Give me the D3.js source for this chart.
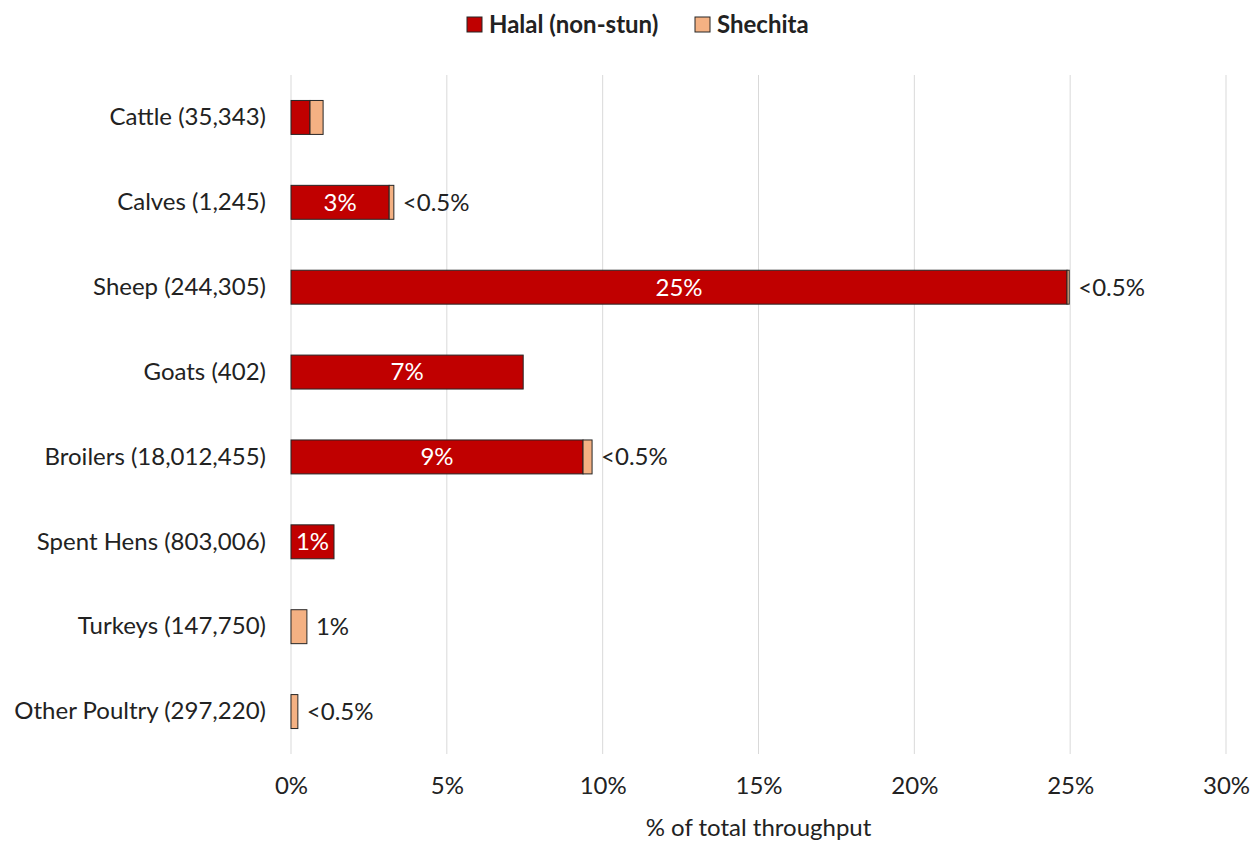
<!DOCTYPE html>
<html>
<head>
<meta charset="utf-8">
<script src="https://cdn.jsdelivr.net/npm/d3@7"></script>
<style>
  body { margin: 0; background: #fff; }
  text { font-family: Lato, "Open Sans", sans-serif; fill: #222; }
</style>
</head>
<body>
<div id="chart"></div>
<script>
var categories = ["Cattle (35,343)", "Calves (1,245)", "Sheep (244,305)", "Goats (402)",
  "Broilers (18,012,455)", "Spent Hens (803,006)", "Turkeys (147,750)", "Other Poultry (297,220)"];
var halal = [0.61, 3.15, 24.9, 7.45, 9.37, 1.38, 0, 0];
var shechita = [0.42, 0.15, 0.07, 0, 0.29, 0, 0.51, 0.22];
var halalLabels = ["", "3%", "25%", "7%", "9%", "1%", "", ""];
var shechitaLabels = ["", "<0.5%", "<0.5%", "", "<0.5%", "", "1%", "<0.5%"];
var xTicks = [0, 5, 10, 15, 20, 25, 30];

var width = 1258;
var height = 841;
var margin = {top: 75, right: 32, bottom: 87, left: 291};
var fontSize = "24px";

var halalColor = "#C00000";
var shechitaColor = "#F4B183";

var svg = d3.select("#chart").append("svg")
  .attr("width", width)
  .attr("height", height);

/* Scales */
var xScale = d3.scaleLinear()
  .domain([0, 30])
  .range([margin.left, width - margin.right]);

var yScale = d3.scaleBand()
  .domain(categories)
  .range([margin.top, height - margin.bottom])
  .paddingInner(0.6)
  .paddingOuter(0.3);

/* Gridlines */
svg.append("g")
  .selectAll("line")
  .data(xTicks).enter()
  .append("line")
  .attr("x1", d => xScale(d))
  .attr("x2", d => xScale(d))
  .attr("y1", margin.top)
  .attr("y2", height - margin.bottom)
  .attr("stroke", "#d9d9d9")
  .attr("stroke-width", 1);

/* Bars */
var rows = svg.append("g")
  .selectAll("g")
  .data(categories).enter()
  .append("g");

rows.filter((d, i) => halal[i] > 0)
  .append("rect")
  .attr("x", xScale(0))
  .attr("y", d => yScale(d))
  .attr("width", d => xScale(halal[categories.indexOf(d)]) - xScale(0))
  .attr("height", yScale.bandwidth())
  .attr("fill", halalColor)
  .attr("stroke", "#262626")
  .attr("stroke-width", 1);

rows.filter((d, i) => shechita[i] > 0)
  .append("rect")
  .attr("x", d => xScale(halal[categories.indexOf(d)]))
  .attr("y", d => yScale(d))
  .attr("width", d => {
    var i = categories.indexOf(d);
    return xScale(halal[i] + shechita[i]) - xScale(halal[i]);
  })
  .attr("height", yScale.bandwidth())
  .attr("fill", shechitaColor)
  .attr("stroke", "#262626")
  .attr("stroke-width", 1);

/* Value labels */
rows.append("text")
  .attr("x", d => {
    var i = categories.indexOf(d);
    return (xScale(0) + xScale(halal[i])) / 2;
  })
  .attr("y", d => yScale(d) + yScale.bandwidth() / 2)
  .attr("dy", "0.35em")
  .attr("text-anchor", "middle")
  .style("font-size", fontSize)
  .style("fill", "#fff")
  .text((d, i) => halalLabels[i]);

rows.append("text")
  .attr("x", d => {
    var i = categories.indexOf(d);
    return xScale(halal[i] + shechita[i]) + 9;
  })
  .attr("y", d => yScale(d) + yScale.bandwidth() / 2)
  .attr("dy", "0.35em")
  .style("font-size", fontSize)
  .text((d, i) => shechitaLabels[i]);

/* Axes */
var yAxis = d3.axisLeft(yScale).tickSize(0).tickPadding(25);
svg.append("g")
  .attr("transform", `translate(${margin.left}, 0)`)
  .call(yAxis)
  .call(g => g.select(".domain").remove())
  .selectAll("text")
  .style("font-size", fontSize)
  .style("font-family", "Lato, sans-serif")
  .attr("fill", "#222");

var xAxis = d3.axisBottom(xScale).tickValues(xTicks).tickSize(0).tickPadding(23)
  .tickFormat(d => d + "%");
svg.append("g")
  .attr("transform", `translate(0, ${height - margin.bottom})`)
  .call(xAxis)
  .call(g => g.select(".domain").remove())
  .selectAll("text")
  .style("font-size", fontSize)
  .style("font-family", "Lato, sans-serif")
  .attr("fill", "#222");

svg.append("text")
  .attr("x", (xScale(0) + xScale(30)) / 2)
  .attr("y", 836)
  .attr("text-anchor", "middle")
  .style("font-size", fontSize)
  .text("% of total throughput");

/* Legend */
var legendItems = [
  {name: "Halal (non-stun)", color: halalColor, x: 467},
  {name: "Shechita", color: shechitaColor, x: 695}
];
var legend = svg.append("g").selectAll("g")
  .data(legendItems).enter()
  .append("g")
  .attr("transform", d => `translate(${d.x}, 17)`);
legend.append("rect")
  .attr("width", 15)
  .attr("height", 15)
  .attr("fill", d => d.color)
  .attr("stroke", "#262626");
legend.append("text")
  .attr("x", 22)
  .attr("y", 8)
  .attr("dy", "0.35em")
  .style("font-size", "24px")
  .style("font-weight", "bold")
  .text(d => d.name);
</script>
</body>
</html>
